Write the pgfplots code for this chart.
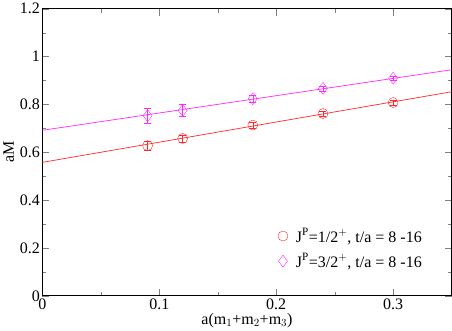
\documentclass[border=0pt]{standalone}
\usepackage{fontspec}
\setmainfont{Liberation Serif}
\usepackage{pgfplots}
\pgfplotsset{compat=1.18}
\definecolor{gred}{RGB}{255,40,40}
\definecolor{gmag}{RGB}{255,40,255}
\begin{document}
\begin{tikzpicture}
\begin{axis}[
  scale only axis, width=409pt, height=287pt,
  xmin=0, xmax=0.35, ymin=0, ymax=1.2,
  xtick={0,0.1,0.2,0.3}, xticklabels={0,0.1,0.2,0.3},
  ytick={0,0.2,0.4,0.6,0.8,1,1.2}, yticklabels={0,0.2,0.4,0.6,0.8,1,1.2},
  minor x tick num=1, minor y tick num=1,
  tick align=inside, major tick length=7pt, minor tick length=4pt,
  ticklabel style={font=\fontsize{16}{16}\selectfont},
  xticklabel style={yshift=1pt}, yticklabel style={xshift=1pt},
  xlabel={a(m$_1$+m$_2$+m$_3$)}, ylabel={aM},
  label style={font=\fontsize{16}{16}\selectfont},
  xlabel style={yshift=3pt}, ylabel style={yshift=-1pt},
  legend style={draw=none, fill=none, at={(0.94,0.08)}, anchor=south east, font=\fontsize{16}{19}\selectfont, row sep=6pt, /tikz/every even column/.append style={column sep=10pt}},
  legend cell align=left,
  axis line style={line width=0.9pt},
]
\addplot[gred, only marks, mark=o, mark size=5pt, error bars/.cd, y dir=both, y explicit, error bar style={gred, line width=0.6pt}, error mark options={gred, rotate=90, mark size=3.5pt}]
 coordinates {(0.09,0.628)+-(0,0.02) (0.12,0.658)+-(0,0.015) (0.18,0.714)+-(0,0.012) (0.24,0.762)+-(0,0.01) (0.30,0.808)+-(0,0.01)};
\addlegendentry{\hspace{6pt}J$^{\mathrm{P}}$=1/2$^+$, t/a = 8 -16}
\addplot[gmag, only marks, mark=diamond, mark size=6pt, error bars/.cd, y dir=both, y explicit, error bar style={gmag, line width=0.6pt}, error mark options={gmag, rotate=90, mark size=3.5pt}]
 coordinates {(0.09,0.753)+-(0,0.032) (0.12,0.775)+-(0,0.024) (0.18,0.824)+-(0,0.014) (0.24,0.867)+-(0,0.01) (0.30,0.910)+-(0,0.01)};
\addlegendentry{\hspace{6pt}J$^{\mathrm{P}}$=3/2$^+$, t/a = 8 -16}
\addplot[gred, line width=0.7pt, forget plot] coordinates {(0,0.558) (0.35,0.853)};
\addplot[gmag, line width=0.7pt, forget plot] coordinates {(0,0.692) (0.35,0.945)};
\end{axis}
\end{tikzpicture}
\end{document}
